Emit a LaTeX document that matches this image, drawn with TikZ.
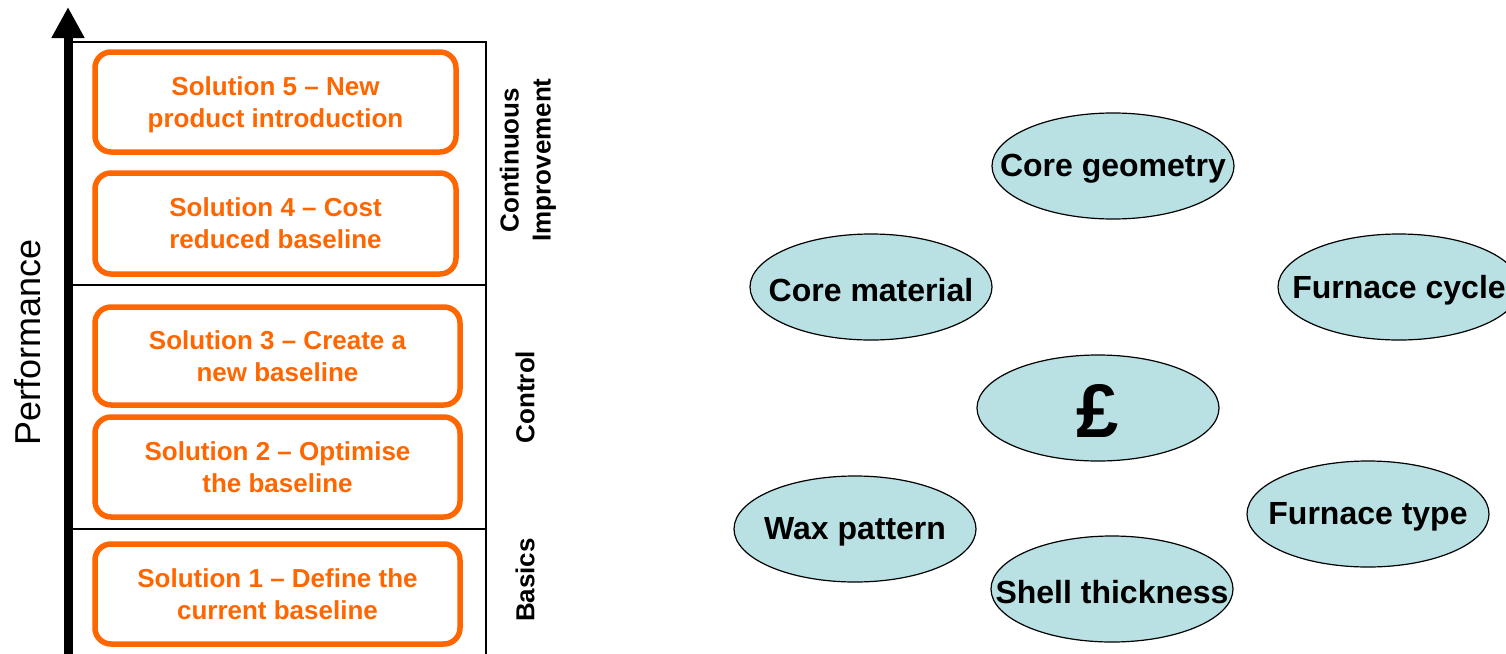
\documentclass[tikz,border=0pt]{standalone}
\usepackage{fontspec}
\setmainfont{Liberation Sans}
\usetikzlibrary{shapes.geometric,arrows.meta}
\definecolor{solorange}{RGB}{255,102,0}
\definecolor{blobblue}{RGB}{185,224,227}
\begin{document}
\begin{tikzpicture}[x=1pt, y=-1pt, >={Triangle[width=31pt,length=31pt]},
  solbox/.style={draw=solorange, line width=5.5pt, rounded corners=16pt, text=solorange,
    font=\fontsize{26}{32}\selectfont\bfseries, align=center, inner sep=0pt,
    minimum width=361pt, minimum height=100pt, text depth=-2pt},
  stage/.style={rotate=90, align=center, font=\fontsize{26}{32}\selectfont\bfseries},
  blob/.style={ellipse, draw, line width=1.2pt, fill=blobblue, minimum width=242pt,
    minimum height=106pt, inner sep=0pt,
    label={[font=\fontsize{32}{38}\selectfont\bfseries, yshift=-3pt]center:#1}}]
 \useasboundingbox (0,0) rectangle (1506,653);
 % performance axis and stage frame
 \coordinate (axisbot) at (68,660);
 \coordinate (axistop) at (68,7);
 \draw[line width=1.3pt] (486,660) -- (486,42) -- (73,42);
 \draw[line width=1.3pt] (73,285) -- (486,285);
 \draw[line width=1.3pt] (73,529) -- (486,529);
 \draw[->, line width=9pt] (axisbot) -- (axistop);
 \node (perf) [rotate=90, font=\fontsize{36}{40}\selectfont] at (28,342) {Performance};
 \node (ci) [stage] at (528,160) {Continuous\\Improvement};
 \node (ctrl) [stage] at (525,397) {Control};
 \node (basics) [stage] at (525,580) {Basics};
 % solutions
 \node (sol5) [solbox] at (275.5,102) {Solution 5 -- New\\product introduction};
 \node (sol4) [solbox, minimum height=101pt] at (275.5,223.5) {Solution 4 -- Cost\\reduced baseline};
 \node (sol3) [solbox, minimum width=365pt, minimum height=98pt] at (277.5,356) {Solution 3 -- Create a\\new baseline};
 \node (sol2) [solbox, minimum width=365pt] at (277.5,467) {Solution 2 -- Optimise\\the baseline};
 \node (sol1) [solbox, minimum width=365pt] at (277.5,594) {Solution 1 -- Define the\\current baseline};
 % cost drivers
 \node (coregeo) [blob=Core geometry] at (1113,166) {};
 \node (coremat) [blob=Core material] at (871,287) {};
 \node (fcycle) [blob=Furnace cycle] at (1399,287) {};
 \node (cost) [blob={\fontsize{76}{80}\selectfont £}] at (1098,408) {};
 \node (wax) [blob=Wax pattern] at (855,529) {};
 \node (ftype) [blob=Furnace type] at (1368,514) {};
 \node (shell) [blob=Shell thickness] at (1112,589) {};
\end{tikzpicture}
\end{document}
